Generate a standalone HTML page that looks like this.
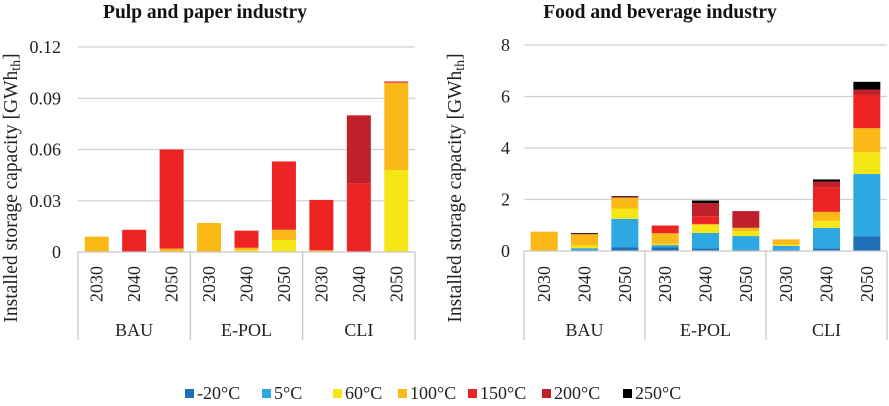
<!DOCTYPE html>
<html><head><meta charset="utf-8"><style>
html,body{margin:0;padding:0;background:#fff}
svg{display:block;font-family:"Liberation Serif",serif}
</style></head><body>
<svg id="c" width="889" height="406"></svg>
<script>
const categories = ["2030","2040","2050","2030","2040","2050","2030","2040","2050"];
const groups = ["BAU","E-POL","CLI"];
const seriesNames = ["-20°C","5°C","60°C","100°C","150°C","200°C","250°C"];
const seriesColors = ["#1f6fb8","#2ea8e0","#f5e716","#fbb917","#ee2424","#c0202a","#000000"];
// pulp & paper, per category: [-20,5,60,100,150,200,250]
const pulpValues = [
 [0,0,0,0.009,0,0,0],
 [0,0,0,0,0.013,0,0],
 [0,0,0,0.002,0.058,0,0],
 [0,0,0,0.017,0,0,0],
 [0,0,0.001,0.0015,0.010,0,0],
 [0,0,0.007,0.006,0.040,0,0],
 [0,0,0,0.001,0.0295,0,0],
 [0,0,0,0,0.040,0.040,0],
 [0,0,0.048,0.051,0.0004,0.0004,0]
];
const foodValues = [
 [0,0,0,0.75,0,0,0],
 [0.05,0.06,0.1,0.44,0,0.02,0.03],
 [0.15,1.1,0.4,0.42,0,0.03,0.03],
 [0.15,0.08,0.05,0.41,0.3,0,0],
 [0.1,0.6,0.3,0.05,0.3,0.51,0.1],
 [0.05,0.53,0.19,0.13,0,0.65,0],
 [0.05,0.15,0.05,0.2,0,0,0],
 [0.1,0.8,0.28,0.34,0.95,0.23,0.08],
 [0.57,2.42,0.85,0.93,1.29,0.21,0.3]
];
const pulpTicks = ["0","0.03","0.06","0.09","0.12"];
const foodTicks = ["0","2","4","6","8"];

const svg = document.getElementById('c');
const NS = "http://www.w3.org/2000/svg";
function mk(tag, attrs, parent){
  const e = document.createElementNS(NS, tag);
  for (const k in attrs) e.setAttribute(k, attrs[k]);
  (parent||svg).appendChild(e); return e;
}
function drawChart(o){
  const g = mk('g', {});
  
  
  const yMax = parseFloat(o.ticks[o.ticks.length-1]);
  const y = v => o.y0 - (v / yMax) * (o.y0 - o.y1);
  const step = (o.x1 - o.x0) / categories.length;
  const x = i => o.x0 + step * i + step/2;
  const t = mk('text', {x:o.titleX, y:18, 'text-anchor':'middle', 'font-size':19.5, 'font-weight':'bold', fill:'#111'}, g);
  t.textContent = o.title;
  
  
  o.ticks.forEach(tk => {
    const v = parseFloat(tk), yy = y(v);
    if (v > 0) {
      const l = mk('line', {x1:o.x0, x2:o.x1, y1:yy, y2:yy, stroke:'#d0d0d0', 'stroke-width':1.3}, g);
      
      
    }
    const tx = mk('text', {x:o.tickX, y:yy+6, 'text-anchor':'end', 'font-size':18, fill:'#222'}, g);
    tx.textContent = tk;
    
    
  });
  const yt = mk('text', {x:0, y:0, 'text-anchor':'middle', 'font-size':19.5, fill:'#222', transform:`translate(${o.ytX},${o.ytY}) rotate(-90)`}, g);
  yt.innerHTML = 'Installed  storage capacity [GWh<tspan font-size="14" dy="3">th</tspan><tspan dy="-3">]</tspan>';
  
  
  o.values.forEach((vals, i) => {
    let acc = 0;
    vals.forEach((v, s) => {
      if (v <= 0) return;
      const r = mk('rect', {x:x(i)-o.bw/2, y:y(acc+v), width:o.bw, height:y(acc)-y(acc+v), fill:seriesColors[s]}, g);
      
      
      acc += v;
    });
  });
  const ax = mk('line', {x1:o.x0, x2:o.x1, y1:o.y0, y2:o.y0, stroke:'#c8c8c8', 'stroke-width':1.3}, g);
  
  
  for (let k = 0; k <= groups.length; k++) {
    const xx = o.x0 + k * step * 3;
    const l = mk('line', {x1:xx, x2:xx, y1:o.y0, y2:340, stroke:'#c8c8c8', 'stroke-width':1.3}, g);
    
    
  }
  categories.forEach((c, i) => {
    const tx = mk('text', {x:0, y:0, 'text-anchor':'middle', 'font-size':18, fill:'#222', transform:`translate(${x(i)+6},284) rotate(-90)`}, g);
    tx.textContent = c;
    
    
  });
  groups.forEach((gn, k) => {
    const tx = mk('text', {x:o.x0 + step*3*k + step*1.5, y:336, 'text-anchor':'middle', 'font-size':18, fill:'#222'}, g);
    tx.textContent = gn;
    
    
  });
}
drawChart({name:'pulp-chart', title:'Pulp and paper industry', titleX:205, values:pulpValues, ticks:pulpTicks,
  x0:78, x1:415, y0:252, y1:47, bw:24, tickX:61, ytX:17, ytY:188});
drawChart({name:'food-chart', title:'Food and beverage industry', titleX:660, values:foodValues, ticks:foodTicks,
  x0:524, x1:887, y0:251, y1:45, bw:27, tickX:510, ytX:461, ytY:188});
const legX = [185,262,333,398,468,542,623];
const lg = mk('g', {});


seriesNames.forEach((n, i) => {
  const r = mk('rect', {x:legX[i], y:389, width:9, height:9, fill:seriesColors[i]}, lg);
  
  
  const t = mk('text', {x:legX[i]+12, y:399, 'font-size':18, fill:'#222'}, lg);
  t.textContent = n;
  
  
});
</script>
</body></html>
